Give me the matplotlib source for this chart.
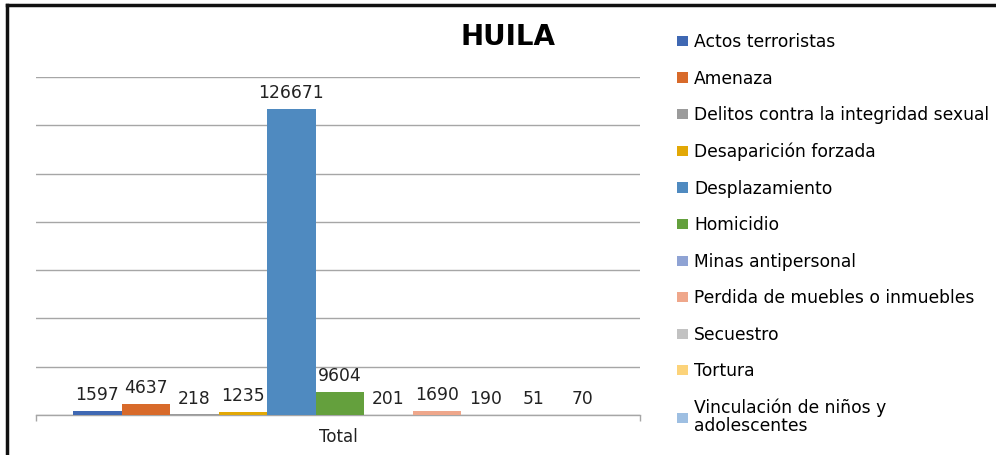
import matplotlib.pyplot as plt
from matplotlib.lines import Line2D
from matplotlib.patches import Patch
import numpy as np

categorias = ['Actos terroristas', 'Amenaza', 'Delitos contra la integridad sexual',
              'Desaparición forzada', 'Desplazamiento', 'Homicidio', 'Minas antipersonal',
              'Perdida de muebles o inmuebles', 'Secuestro', 'Tortura',
              'Vinculación de niños y\nadolescentes']
valores = [1597, 4637, 218, 1235, 126671, 9604, 201, 1690, 190, 51, 70]
colores = ['#3F68B3', '#D86A2A', '#9B9B9B', '#E2A806', '#4F8AC0', '#64A03D',
           '#8FA3D4', '#EFA78B', '#C2C2C2', '#FCD37A', '#9EBFE2']
grupo = ['Total']

plt.rcParams['font.family'] = 'DejaVu Sans'
fig = plt.figure(figsize=(9.96, 4.55), dpi=100)
ax = fig.add_axes([36 / 996, 40 / 455, 604 / 996, 338 / 455])

n = len(valores)
ancho = 0.883 / n
xs = (np.arange(n) - (n - 1) / 2) * ancho + 0.003
bars = ax.bar(xs, valores, width=ancho, color=colores, zorder=3)
for x, v in zip(xs, valores):
    ax.annotate(str(v), (x, v), textcoords='offset points', xytext=(0, 5),
                ha='center', va='bottom', fontsize=12.3, color='#222222')

ax.set_xlim(-0.5, 0.5)
ax.set_ylim(0, 140000)
ax.set_yticks(np.arange(0, 140001, 20000))
ax.yaxis.grid(True, color='#A6A6A6', linewidth=1.0, zorder=0)
ax.tick_params(axis='y', length=0, labelleft=False)
ax.set_xticks([0])
ax.set_xticklabels(grupo, fontsize=12, color='#222222')
ax.set_xticks([-0.5, 0.5], minor=True)
ax.tick_params(axis='x', which='major', length=0, pad=9)
ax.tick_params(axis='x', which='minor', length=4, color='#A6A6A6', width=1)
for s in ['top', 'right', 'left']:
    ax.spines[s].set_visible(False)
ax.spines['bottom'].set_color('#A6A6A6')
ax.spines['bottom'].set_linewidth(1.0)

fig.text(508 / 996, 1 - 37 / 455, 'HUILA', ha='center', va='center',
         fontsize=20, fontweight='bold')

handles = [Patch(facecolor=c) for c in colores]
leg = fig.legend(handles, categorias, loc='upper left', bbox_to_anchor=(677 / 996, 1 - 33 / 455),
                 frameon=False, fontsize=12.3, handlelength=0.65, handleheight=0.55,
                 handletextpad=0.35, labelspacing=1.085, borderpad=0, borderaxespad=0)
leg.get_texts()[-1].set_linespacing(0.95)

# marco exterior
fig.add_artist(Line2D([7 / 996, 7 / 996], [0, 1 - 5 / 455], transform=fig.transFigure,
                      color='#111111', linewidth=2.5))
fig.add_artist(Line2D([7 / 996, 1], [1 - 5 / 455, 1 - 5 / 455], transform=fig.transFigure,
                      color='#111111', linewidth=2.5))

fig.savefig('out.png', dpi=100)
